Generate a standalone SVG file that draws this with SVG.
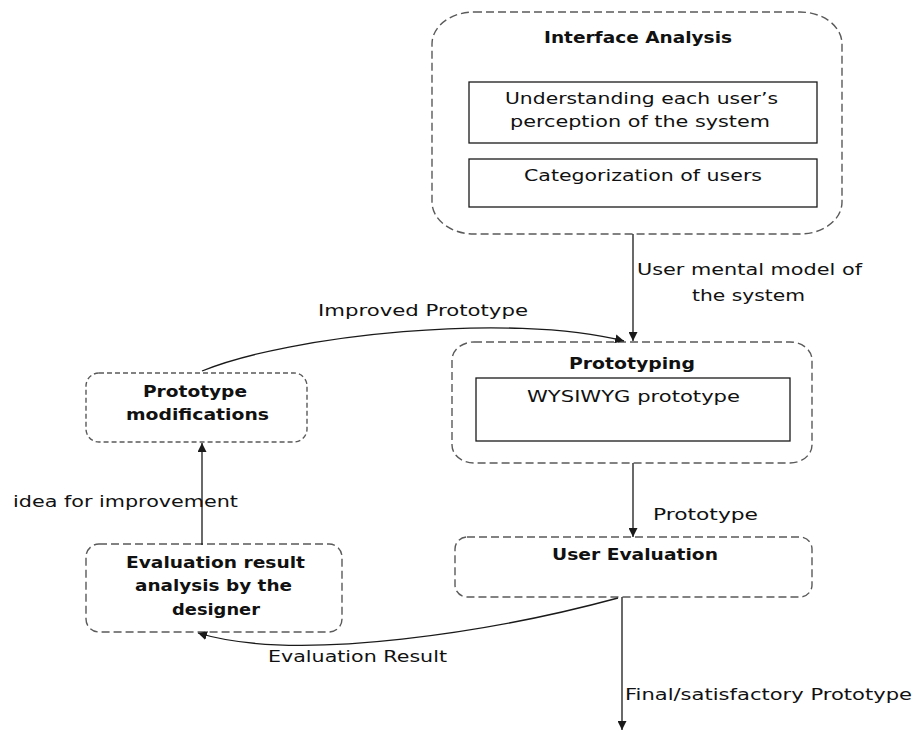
<svg xmlns="http://www.w3.org/2000/svg" width="914" height="731" viewBox="0 0 914 731">
<defs>
<marker id="ah" viewBox="0 0 10 10" refX="10" refY="5" markerWidth="9" markerHeight="9" markerUnits="userSpaceOnUse" orient="auto">
<path d="M0,0 L10,5 L0,10 z" fill="#1a1a1a"/>
</marker>
</defs>
<style>
.outer{fill:none;stroke:#5a5a5a;stroke-width:1.4;stroke-dasharray:8 4}
.outer2{fill:none;stroke:#5a5a5a;stroke-width:1.4;stroke-dasharray:5 3}
.inner{fill:#fff;stroke:#1a1a1a;stroke-width:1.3}
.t{font-family:"DejaVu Sans",Verdana,sans-serif;font-size:15px;fill:#111}
.b{font-family:"DejaVu Sans",Verdana,sans-serif;font-size:15px;font-weight:bold;fill:#111}
.c{fill:none;stroke:#1a1a1a;stroke-width:1.3}
</style>
<rect width="914" height="731" fill="#fff"/>
<g id="interface-analysis">
<rect class="outer" x="432" y="12" width="410" height="222" rx="42" ry="32"/>
<text class="b" x="544" y="43" textLength="188" lengthAdjust="spacingAndGlyphs">Interface Analysis</text>
<rect class="inner" x="469" y="82" width="348" height="61"/>
<text class="t" x="505" y="104" textLength="273" lengthAdjust="spacingAndGlyphs">Understanding each user’s</text>
<text class="t" x="510" y="127" textLength="260" lengthAdjust="spacingAndGlyphs">perception of the system</text>
<rect class="inner" x="469" y="159" width="348" height="48"/>
<text class="t" x="524" y="181" textLength="238" lengthAdjust="spacingAndGlyphs">Categorization of users</text>
</g>
<g id="prototyping">
<rect class="outer" x="452" y="342" width="360" height="121" rx="22" ry="18"/>
<text class="b" x="569" y="369" textLength="126" lengthAdjust="spacingAndGlyphs">Prototyping</text>
<rect class="inner" x="476" y="378" width="314" height="63"/>
<text class="t" x="527" y="402" textLength="213" lengthAdjust="spacingAndGlyphs">WYSIWYG prototype</text>
</g>
<g id="user-evaluation">
<rect class="outer" x="455" y="537" width="357" height="60" rx="12" ry="12"/>
<text class="b" x="552" y="560" textLength="166" lengthAdjust="spacingAndGlyphs">User Evaluation</text>
</g>
<g id="prototype-modifications">
<rect class="outer2" x="86" y="373" width="221" height="69" rx="13" ry="13"/>
<text class="b" x="143" y="397" textLength="104" lengthAdjust="spacingAndGlyphs">Prototype</text>
<text class="b" x="126" y="420" textLength="143" lengthAdjust="spacingAndGlyphs">modifications</text>
</g>
<g id="evaluation-analysis">
<rect class="outer" x="86" y="544" width="256" height="88" rx="13" ry="13"/>
<text class="b" x="126" y="568" textLength="179" lengthAdjust="spacingAndGlyphs">Evaluation result</text>
<text class="b" x="135" y="591" textLength="157" lengthAdjust="spacingAndGlyphs">analysis by the</text>
<text class="b" x="172" y="615" textLength="88" lengthAdjust="spacingAndGlyphs">designer</text>
</g>
<g id="connectors">
<line class="c" x1="633" y1="234" x2="633" y2="341" marker-end="url(#ah)"/>
<path class="c" d="M202,371 C290,335 510,312 624,341" marker-end="url(#ah)"/>
<line class="c" x1="633" y1="463" x2="633" y2="537" marker-end="url(#ah)"/>
<line class="c" x1="202" y1="545" x2="202" y2="443" marker-end="url(#ah)"/>
<path class="c" d="M618,598 C500,630 300,664 198,633" marker-end="url(#ah)"/>
<line class="c" x1="622" y1="597" x2="622" y2="730" marker-end="url(#ah)"/>
<text class="t" x="637" y="275" textLength="225" lengthAdjust="spacingAndGlyphs">User mental model of</text>
<text class="t" x="692" y="301" textLength="113" lengthAdjust="spacingAndGlyphs">the system</text>
<text class="t" x="318" y="316" textLength="210" lengthAdjust="spacingAndGlyphs">Improved Prototype</text>
<text class="t" x="653" y="520" textLength="105" lengthAdjust="spacingAndGlyphs">Prototype</text>
<text class="t" x="13" y="507" textLength="225" lengthAdjust="spacingAndGlyphs">idea for improvement</text>
<text class="t" x="268" y="662" textLength="179" lengthAdjust="spacingAndGlyphs">Evaluation Result</text>
<text class="t" x="625" y="700" textLength="287" lengthAdjust="spacingAndGlyphs">Final/satisfactory Prototype</text>
</g>
</svg>
